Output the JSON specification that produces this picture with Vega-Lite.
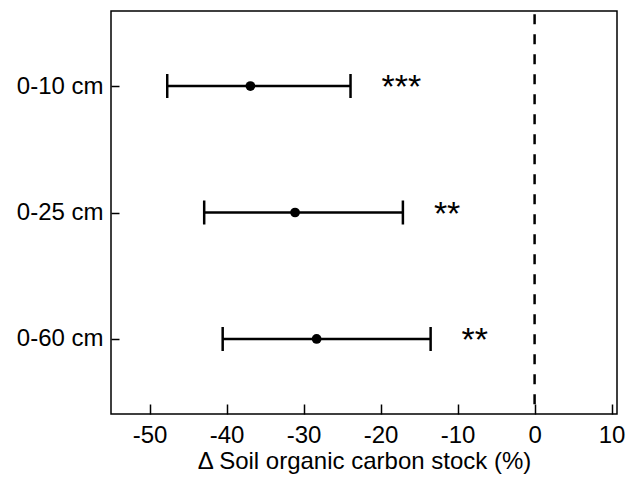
{
  "$schema": "https://vega.github.io/schema/vega-lite/v6.json",
  "width": 506,
  "height": 403,
  "autosize": "none",
  "padding": {"left": 111, "top": 11, "right": 10, "bottom": 63},
  "background": "white",
  "config": {
    "font": "Liberation Sans",
    "view": {"stroke": "black", "strokeWidth": 1.5}
  },
  "datasets": {
    "effects": [
      {"depth": "0-10 cm", "mean": -36.9, "lo": -47.7, "hi": -23.9, "sig": "***"},
      {"depth": "0-25 cm", "mean": -31.1, "lo": -42.9, "hi": -17.1, "sig": "**"},
      {"depth": "0-60 cm", "mean": -28.3, "lo": -40.5, "hi": -13.5, "sig": "**"}
    ],
    "reference": [{"ref": 0}]
  },
  "layer": [
    {
      "data": {"name": "reference"},
      "mark": {"type": "rule", "color": "black", "strokeWidth": 2.5, "strokeDash": [10, 10], "strokeDashOffset": 16.7},
      "encoding": {
        "x": {"field": "ref", "type": "quantitative", "title": "Δ Soil organic carbon stock (%)",
              "scale": {"domain": [-55, 10.7], "nice": false, "zero": false}}
      }
    },
    {
      "data": {"name": "effects"},
      "mark": {"type": "rule", "color": "black", "strokeWidth": 2.5},
      "encoding": {
        "x": {"field": "lo", "type": "quantitative", "title": "Δ Soil organic carbon stock (%)",
              "axis": {"values": [-50, -40, -30, -20, -10, 0, 10], "grid": false, "domain": false,
                       "labelExpr": "toString(datum.value)",
                       "tickSize": -10, "tickColor": "black", "tickWidth": 1.5,
                       "labelFontSize": 24, "labelColor": "black", "labelPadding": 19.5,
                       "titleFontSize": 24, "titleFontWeight": "normal", "titleColor": "black", "titlePadding": 2}},
        "x2": {"field": "hi"},
        "y": {"field": "depth", "type": "nominal", "sort": null, "scale": {"type": "point", "padding": 0.593},
              "axis": {"title": null, "grid": false, "domain": false,
                       "tickSize": -8, "tickColor": "black", "tickWidth": 1.5,
                       "labelFontSize": 24, "labelColor": "black", "labelPadding": 16}}
      }
    },
    {
      "data": {"name": "effects"},
      "mark": {"type": "tick", "color": "black", "thickness": 2.5, "size": 24, "opacity": 1},
      "encoding": {
        "x": {"field": "lo", "type": "quantitative", "title": "Δ Soil organic carbon stock (%)"},
        "y": {"field": "depth", "type": "nominal", "sort": null}
      }
    },
    {
      "data": {"name": "effects"},
      "mark": {"type": "tick", "color": "black", "thickness": 2.5, "size": 24, "opacity": 1},
      "encoding": {
        "x": {"field": "hi", "type": "quantitative", "title": "Δ Soil organic carbon stock (%)"},
        "y": {"field": "depth", "type": "nominal", "sort": null}
      }
    },
    {
      "data": {"name": "effects"},
      "mark": {"type": "circle", "color": "black", "size": 95, "opacity": 1},
      "encoding": {
        "x": {"field": "mean", "type": "quantitative", "title": "Δ Soil organic carbon stock (%)"},
        "y": {"field": "depth", "type": "nominal", "sort": null}
      }
    },
    {
      "data": {"name": "effects"},
      "mark": {"type": "text", "color": "black", "fontSize": 34, "align": "left", "baseline": "alphabetic", "dx": 31, "dy": 12.4},
      "encoding": {
        "x": {"field": "hi", "type": "quantitative", "title": "Δ Soil organic carbon stock (%)"},
        "y": {"field": "depth", "type": "nominal", "sort": null},
        "text": {"field": "sig"}
      }
    }
  ]
}
